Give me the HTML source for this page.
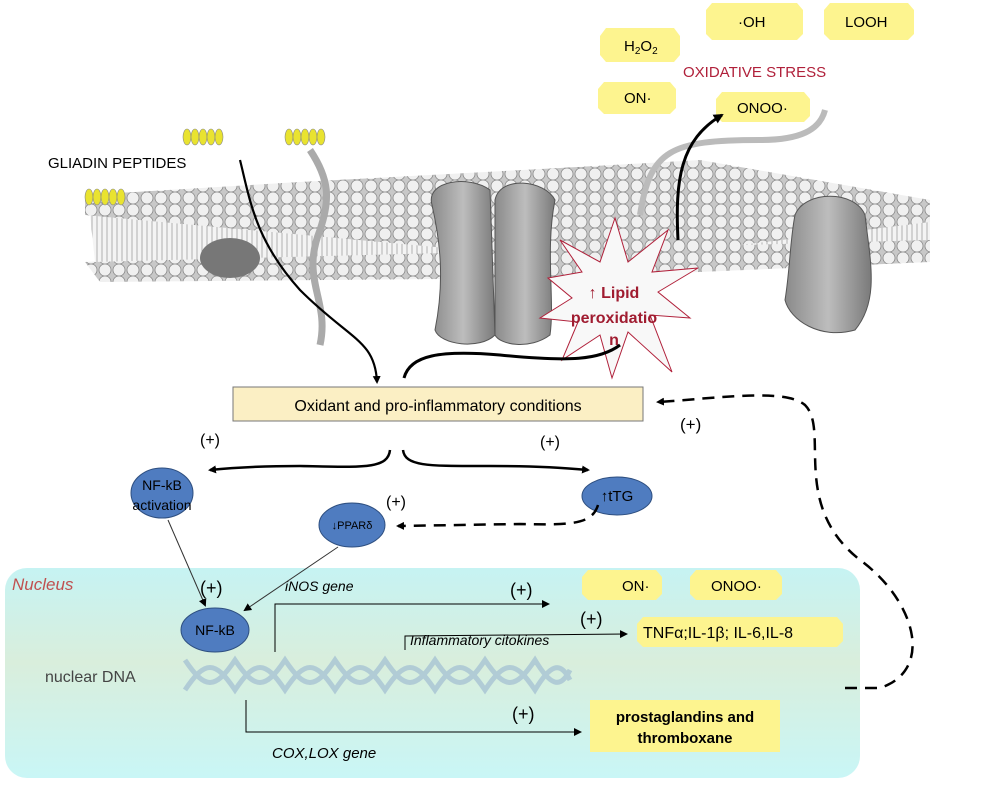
<!DOCTYPE html>
<html><head><meta charset="utf-8"><style>
html,body{margin:0;padding:0;background:#fff}
svg{display:block}
text{font-family:"Liberation Sans",sans-serif}
</style></head><body>
<svg width="1000" height="786" viewBox="0 0 1000 786" xmlns="http://www.w3.org/2000/svg">
<defs>
<pattern id="balls" width="14" height="12" patternUnits="userSpaceOnUse">
<rect width="14" height="12" fill="#c8c8c8"/>
<circle cx="7" cy="6" r="6" fill="#f0f0f0" stroke="#888" stroke-width="0.8"/>
</pattern>
<pattern id="tails" width="5" height="40" patternUnits="userSpaceOnUse">
<rect width="5" height="40" fill="#f4f4f4"/>
<line x1="2" y1="0" x2="2" y2="40" stroke="#b0b0b0" stroke-width="1"/>
</pattern>
<linearGradient id="nuc" x1="0" y1="0" x2="0" y2="1">
<stop offset="0" stop-color="#c6f3f3"/>
<stop offset="0.45" stop-color="#d9eedc"/>
<stop offset="1" stop-color="#c9f6f6"/>
</linearGradient>
<linearGradient id="prot" x1="0" y1="0" x2="1" y2="0">
<stop offset="0" stop-color="#8a8a8a"/><stop offset="0.5" stop-color="#bdbdbd"/><stop offset="1" stop-color="#7a7a7a"/>
</linearGradient>
<marker id="ah" markerWidth="8" markerHeight="8" refX="6" refY="4" orient="auto" markerUnits="userSpaceOnUse"><path d="M0,0 L8,4 L0,8 Z" fill="#000"/></marker>
<marker id="ahs" markerWidth="10" markerHeight="10" refX="8" refY="5" orient="auto" markerUnits="userSpaceOnUse"><path d="M0,0 L10,5 L0,10 Z" fill="#000"/></marker>
</defs>

<rect x="5" y="568" width="855" height="210" rx="22" fill="url(#nuc)"/>

<polygon points="85,262 300,250 560,240 930,232 930,262 560,278 100,282" fill="url(#balls)"/>
<polygon points="90,215 430,205 930,210 930,240 560,250 95,262" fill="url(#tails)"/>
<polygon points="85,195 300,182 560,168 700,160 930,200 930,222 600,262 85,215" fill="url(#balls)"/>
<path d="M310,150 C330,180 330,200 320,230 C300,280 330,300 320,345" stroke="#aaa" stroke-width="7" fill="none"/>
<path d="M640,215 C650,150 670,140 760,140 C800,140 820,130 825,110" stroke="#bbb" stroke-width="6" fill="none"/>
<path d="M432,205 C425,180 470,175 490,190 L495,335 C480,350 440,345 435,330 C445,280 440,240 432,205 Z" fill="url(#prot)" stroke="#555"/>
<path d="M495,200 C500,175 545,180 555,200 C545,250 555,300 550,335 C530,350 500,345 495,335 Z" fill="url(#prot)" stroke="#555"/>
<path d="M795,215 C805,190 855,190 865,215 C870,260 880,300 855,330 C820,340 790,320 785,300 C790,270 790,240 795,215 Z" fill="url(#prot)" stroke="#555"/>
<ellipse cx="230" cy="258" rx="30" ry="20" fill="#777"/>

<g fill="#e9e330" stroke="#888" stroke-width="0.6">
<ellipse cx="187" cy="137" rx="4" ry="8"/><ellipse cx="195" cy="137" rx="4" ry="8"/><ellipse cx="203" cy="137" rx="4" ry="8"/><ellipse cx="211" cy="137" rx="4" ry="8"/><ellipse cx="219" cy="137" rx="4" ry="8"/>
<ellipse cx="289" cy="137" rx="4" ry="8"/><ellipse cx="297" cy="137" rx="4" ry="8"/><ellipse cx="305" cy="137" rx="4" ry="8"/><ellipse cx="313" cy="137" rx="4" ry="8"/><ellipse cx="321" cy="137" rx="4" ry="8"/>
<ellipse cx="89" cy="197" rx="4" ry="8"/><ellipse cx="97" cy="197" rx="4" ry="8"/><ellipse cx="105" cy="197" rx="4" ry="8"/><ellipse cx="113" cy="197" rx="4" ry="8"/><ellipse cx="121" cy="197" rx="4" ry="8"/>
</g>
<text x="48" y="168" font-size="15">GLIADIN  PEPTIDES</text>

<g fill="#fdf48f">
<polygon points="606,28 674,28 680,36 680,55 674,62 606,62 600,55 600,36"/>
<polygon points="712,3 797,3 803,10 803,34 797,40 712,40 706,34 706,10"/>
<polygon points="830,3 908,3 914,10 914,34 908,40 830,40 824,34 824,10"/>
<polygon points="604,82 670,82 676,89 676,108 670,114 604,114 598,108 598,89"/>
<polygon points="722,92 804,92 810,99 810,116 804,122 722,122 716,116 716,99"/>
</g>
<text x="624" y="51" font-size="15">H<tspan font-size="10" dy="3">2</tspan><tspan dy="-3">O</tspan><tspan font-size="10" dy="3">2</tspan></text>
<text x="738" y="27" font-size="15">·OH</text>
<text x="845" y="27" font-size="15">LOOH</text>
<text x="624" y="103" font-size="15">ON·</text>
<text x="737" y="113" font-size="15">ONOO·</text>
<text x="683" y="77" font-size="15" fill="#b0203a">OXIDATIVE STRESS</text>

<polygon points="615,218 628,262 668,230 652,272 698,268 658,292 690,318 650,315 672,372 628,332 612,378 600,335 562,360 578,322 540,318 572,298 548,278 582,272 560,240 600,262" fill="#f8f8f8" stroke="#b0203a" stroke-width="1"/>
<text x="614" y="298" font-size="16" font-weight="bold" fill="#a01c30" text-anchor="middle">↑ Lipid</text>
<text x="614" y="323" font-size="16" font-weight="bold" fill="#a01c30" text-anchor="middle">peroxidatio</text>
<text x="614" y="345" font-size="16" font-weight="bold" fill="#a01c30" text-anchor="middle">n</text>

<path d="M240,160 C250,200 255,240 300,290 C350,340 375,340 377,382" stroke="#000" stroke-width="2.2" fill="none" marker-end="url(#ah)"/>
<path d="M404,378 C410,355 440,350 500,355 C570,362 600,360 620,345" stroke="#000" stroke-width="3" fill="none"/>
<path d="M678,240 C675,180 680,140 722,115" stroke="#000" stroke-width="3" fill="none" marker-end="url(#ahs)"/>

<rect x="233" y="387" width="410" height="34" fill="#fbefc4" stroke="#777"/>
<text x="438" y="411" font-size="16" text-anchor="middle">Oxidant and pro-inflammatory conditions</text>

<text x="200" y="445" font-size="16">(+)</text>
<text x="540" y="447" font-size="16">(+)</text>
<text x="680" y="430" font-size="17">(+)</text>
<path d="M390,450 C388,470 360,467 300,466 C260,466 230,468 210,470" stroke="#000" stroke-width="2.5" fill="none" marker-end="url(#ah)"/>
<path d="M403,450 C405,467 430,466 490,466 C540,466 565,468 588,470" stroke="#000" stroke-width="2.5" fill="none" marker-end="url(#ah)"/>

<g fill="#4f7cc0" stroke="#2e4f80" stroke-width="1">
<ellipse cx="162" cy="493" rx="31" ry="25"/>
<ellipse cx="352" cy="525" rx="33" ry="22"/>
<ellipse cx="617" cy="496" rx="35" ry="19"/>
<ellipse cx="215" cy="630" rx="34" ry="22"/>
</g>
<text x="162" y="490" font-size="14" text-anchor="middle">NF-kB</text>
<text x="162" y="510" font-size="14" text-anchor="middle">activation</text>
<text x="352" y="529" font-size="11" text-anchor="middle">↓PPARδ</text>
<text x="617" y="501" font-size="15" text-anchor="middle">↑tTG</text>
<text x="386" y="507" font-size="16">(+)</text>
<path d="M598,505 C592,525 570,525 520,524 L398,526" stroke="#000" stroke-width="2.5" stroke-dasharray="12,8" fill="none" marker-end="url(#ah)"/>

<text x="12" y="590" font-size="17" font-style="italic" fill="#c05050">Nucleus</text>
<text x="215" y="635" font-size="14" text-anchor="middle">NF-kB</text>
<text x="200" y="594" font-size="18">(+)</text>
<text x="285" y="591" font-size="14" font-style="italic">iNOS gene</text>
<path d="M168,520 L205,605" stroke="#333" stroke-width="1" marker-end="url(#ah)"/>
<path d="M338,547 L245,610" stroke="#333" stroke-width="1" marker-end="url(#ah)"/>

<g stroke="#a8c4d4" stroke-width="5" fill="none" opacity="0.8">
<path d="M185,660 C205,690 215,690 235,660 C255,690 265,690 285,660 C305,690 315,690 335,660 C355,690 365,690 385,660 C405,690 415,690 435,660 C455,690 465,690 485,660 C505,690 515,690 535,660 C550,685 560,690 570,670"/>
<path d="M185,690 C205,660 215,660 235,690 C255,660 265,660 285,690 C305,660 315,660 335,690 C355,660 365,660 385,690 C405,660 415,660 435,690 C455,660 465,660 485,690 C505,660 515,660 535,690 C550,665 560,660 570,680"/>
</g>
<text x="45" y="682" font-size="16" fill="#444">nuclear DNA</text>

<path d="M275,652 L275,604 L548,604" stroke="#000" stroke-width="1" fill="none" marker-end="url(#ah)"/>
<text x="510" y="596" font-size="18">(+)</text>
<path d="M405,650 L405,636 L626,634" stroke="#000" stroke-width="1" fill="none" marker-end="url(#ah)"/>
<text x="410" y="645" font-size="14" font-style="italic">Inflammatory citokines</text>
<text x="580" y="625" font-size="18">(+)</text>
<path d="M246,700 L246,732 L580,732" stroke="#000" stroke-width="1" fill="none" marker-end="url(#ah)"/>
<text x="512" y="720" font-size="18">(+)</text>
<text x="272" y="758" font-size="15" font-style="italic">COX,LOX gene</text>

<g fill="#fdf48f">
<polygon points="588,570 656,570 662,577 662,594 656,600 588,600 582,594 582,577"/>
<polygon points="696,570 776,570 782,577 782,594 776,600 696,600 690,594 690,577"/>
<polygon points="643,617 837,617 843,624 843,641 837,647 643,647 637,641 637,624"/>
<rect x="590" y="700" width="190" height="52"/>
</g>
<text x="622" y="591" font-size="15">ON·</text>
<text x="711" y="591" font-size="15">ONOO·</text>
<text x="643" y="638" font-size="16">TNFα;IL-1β; IL-6,IL-8</text>
<text x="685" y="722" font-size="15" font-weight="bold" text-anchor="middle">prostaglandins and</text>
<text x="685" y="743" font-size="15" font-weight="bold" text-anchor="middle">thromboxane</text>

<path d="M845,688 L880,688 C935,670 915,600 860,560 C790,505 830,430 805,405 C785,388 720,398 658,402" stroke="#000" stroke-width="2.5" stroke-dasharray="12,8" fill="none" marker-end="url(#ah)"/>
</svg>
</body></html>
